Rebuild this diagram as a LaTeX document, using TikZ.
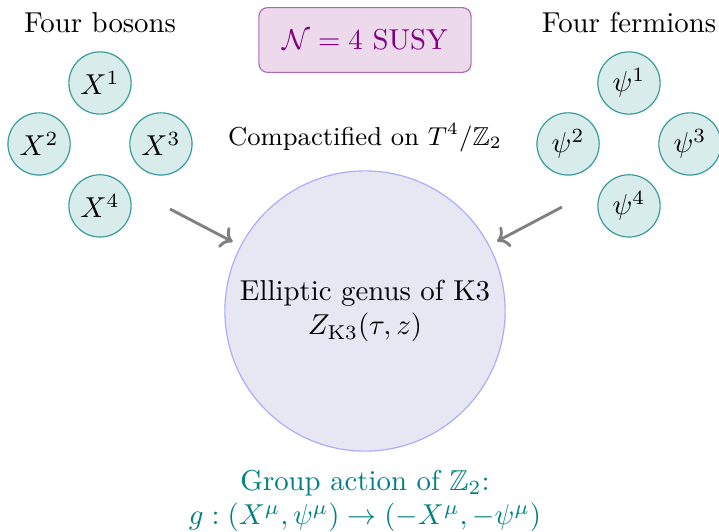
\documentclass[tikz,border=0pt]{standalone}
\usepackage{amsmath}
\usepackage{amsfonts}
\usetikzlibrary{shapes, arrows.meta, positioning}
\definecolor{k3fill}{RGB}{231,231,243}
\definecolor{k3line}{RGB}{170,170,255}
\tikzstyle{every node}=[font=\normalsize]
\tikzstyle{field}=[circle, draw=teal!80, fill=teal!15, minimum size=0.76cm, inner sep=0pt]
\tikzstyle{susy}=[rectangle, rounded corners=3pt, draw=violet!60, fill=violet!15, text=violet, minimum width=2.59cm, minimum height=0.79cm]
\tikzstyle{arr}=[->, line width=1pt, gray, shorten >=3pt]

\begin{document}
\begin{tikzpicture}[x=0.0122cm, y=-0.0122cm]
  \useasboundingbox (0,0) rectangle (719,531);
  \node[field] (X1) at (100,83) {$X^1$};
  \node[field, below left of=X1, node distance=1.052cm] (X2) {$X^2$};
  \node[field, below right of=X1, node distance=1.052cm] (X3) {$X^3$};
  \node[field, below of=X1, node distance=1.5cm] (X4) {$X^4$};
  \node[above of=X1, node distance=0.74cm] (bos) {Four bosons};
  \node[field] (P1) at (629,83) {$\psi^1$};
  \node[field, below left of=P1, node distance=1.052cm] (P2) {$\psi^2$};
  \node[field, below right of=P1, node distance=1.052cm] (P3) {$\psi^3$};
  \node[field, below of=P1, node distance=1.5cm] (P4) {$\psi^4$};
  \node[above of=P1, node distance=0.74cm] (fer) {Four fermions};
  \node[susy] (N) at (365,40) {$\mathcal{N}=4$ SUSY};
  \node[circle, draw=k3line, fill=k3fill, minimum size=3.42cm, align=center] (K3) at (365,311)
    {Elliptic genus of K3\\ $Z_{\mathrm{K3}}(\tau,z)$};
  \node[above of=K3, node distance=2.12cm, font=\small] (comp) {Compactified on $T^4/\mathbb{Z}_2$};
  \node[below of=K3, node distance=2.32cm, text=teal, align=center] (grp)
    {Group action of $\mathbb{Z}_2$:\\ $g:(X^\mu,\psi^\mu)\to(-X^\mu,-\psi^\mu)$};
  \coordinate (bstart) at (170,209);
  \coordinate (fstart) at (562,207);
  \draw[arr] (bstart) -- (K3);
  \draw[arr] (fstart) -- (K3);
\end{tikzpicture}
\end{document}
